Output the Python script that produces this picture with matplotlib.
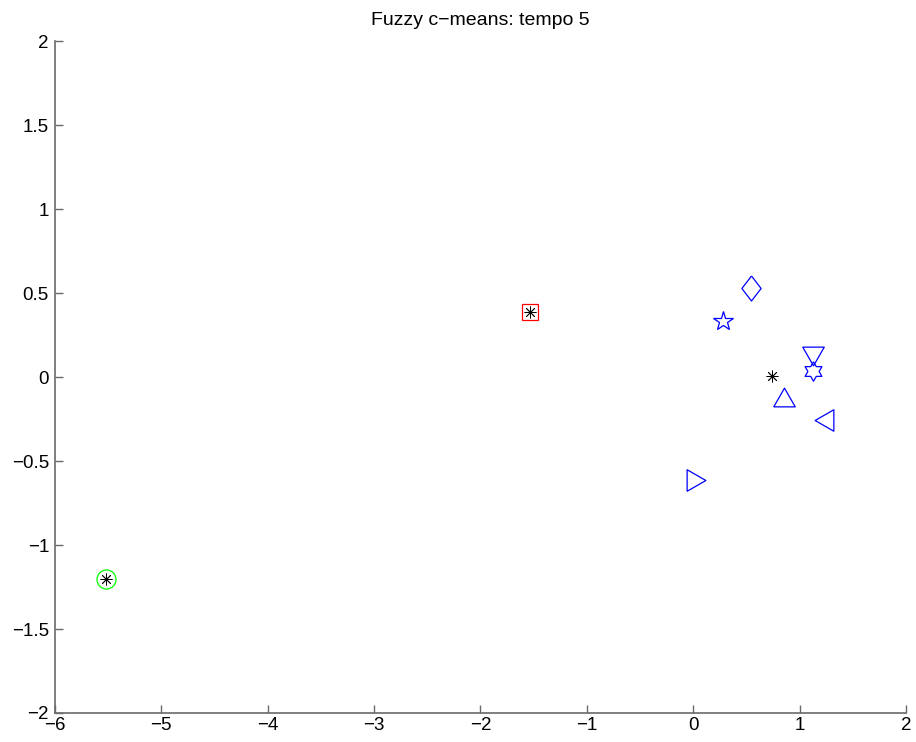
import numpy as np
import matplotlib
matplotlib.use("Agg")
import matplotlib.pyplot as plt

# Data points (x, y) with the marker used for each one
point_x = [0.54, 0.28, 1.13, 1.13, 0.85, 1.23, 0.03, -1.53, -5.52]
point_y = [0.532, 0.337, 0.127, 0.0375, -0.118, -0.256, -0.61, 0.389, -1.202]
point_marker = ["diamond", "pentagram", "tri_down", "hexagram", "tri_up",
                "tri_left", "tri_right", "square", "circle"]
point_color = ["b", "b", "b", "b", "b", "b", "b", "r", "#00ff00"]

# Cluster centres
center_x = [0.74, -1.53, -5.52]
center_y = [0.006, 0.389, -1.202]

x_ticks = [-6, -5, -4, -3, -2, -1, 0, 1, 2]
y_ticks = [-2, -1.5, -1, -0.5, 0, 0.5, 1, 1.5, 2]


def hexagram_verts():
    ang = np.deg2rad(90 + np.arange(12) * 30)
    r = np.where(np.arange(12) % 2 == 0, 1.0, 1 / np.sqrt(3))
    v = list(zip(r * np.cos(ang), r * np.sin(ang)))
    return v + [v[0]]


h = 0.87
MARKERS = {
    "diamond": ([(0, 1), (0.77, 0), (0, -1), (-0.77, 0), (0, 1)], 18),
    "pentagram": ("*", 14.5),
    "hexagram": (hexagram_verts(), 14),
    "tri_up": ([(-1, -h), (1, -h), (0, h), (-1, -h)], 15.5),
    "tri_down": ([(-1, h), (1, h), (0, -h), (-1, h)], 15.5),
    "tri_left": ([(h, -1), (h, 1), (-h, 0), (h, -1)], 15.5),
    "tri_right": ([(-h, -1), (-h, 1), (h, 0), (-h, -1)], 15.5),
    "square": ("s", 11.7),
    "circle": ("o", 13.7),
}

plt.rcParams["font.family"] = ["Liberation Sans", "DejaVu Sans"]

fig = plt.figure(figsize=(9.16, 7.42), dpi=100)
ax = fig.add_axes([0.0600, 0.0391, 0.9291, 0.9052])

for x, y, m, c in zip(point_x, point_y, point_marker, point_color):
    mk, ms = MARKERS[m]
    ax.plot(x, y, linestyle="none", marker=mk, markersize=ms,
            markerfacecolor="none", markeredgecolor=c, markeredgewidth=0.9)

# centres as 8-arm asterisks on top
ax.plot(center_x, center_y, linestyle="none", marker=(8, 2, 0),
        markersize=8.5, markeredgecolor="k", markeredgewidth=0.6, color="k")

ax.set_xlim(-6, 2)
ax.set_ylim(-2, 2)
ax.set_xticks(x_ticks)
ax.set_yticks(y_ticks)
ax.set_xticklabels([f"{v:g}".replace("-", "\u2212") for v in x_ticks])
ax.set_yticklabels([f"{v:g}".replace("-", "\u2212") for v in y_ticks])

for s in ("top", "right"):
    ax.spines[s].set_visible(False)
for s in ("left", "bottom"):
    ax.spines[s].set_color("#6a6a6a")
    ax.spines[s].set_linewidth(1.2)

ax.tick_params(direction="in", length=6, width=1.0, color="#6a6a6a",
               labelsize=13.5, labelcolor="k")
ax.tick_params(axis="y", pad=4.3)
ax.tick_params(axis="x", pad=3)

ax.set_title("Fuzzy c\u2212means: tempo 5", fontsize=14, pad=12)

fig.savefig("out.png", dpi=100, facecolor="white")
